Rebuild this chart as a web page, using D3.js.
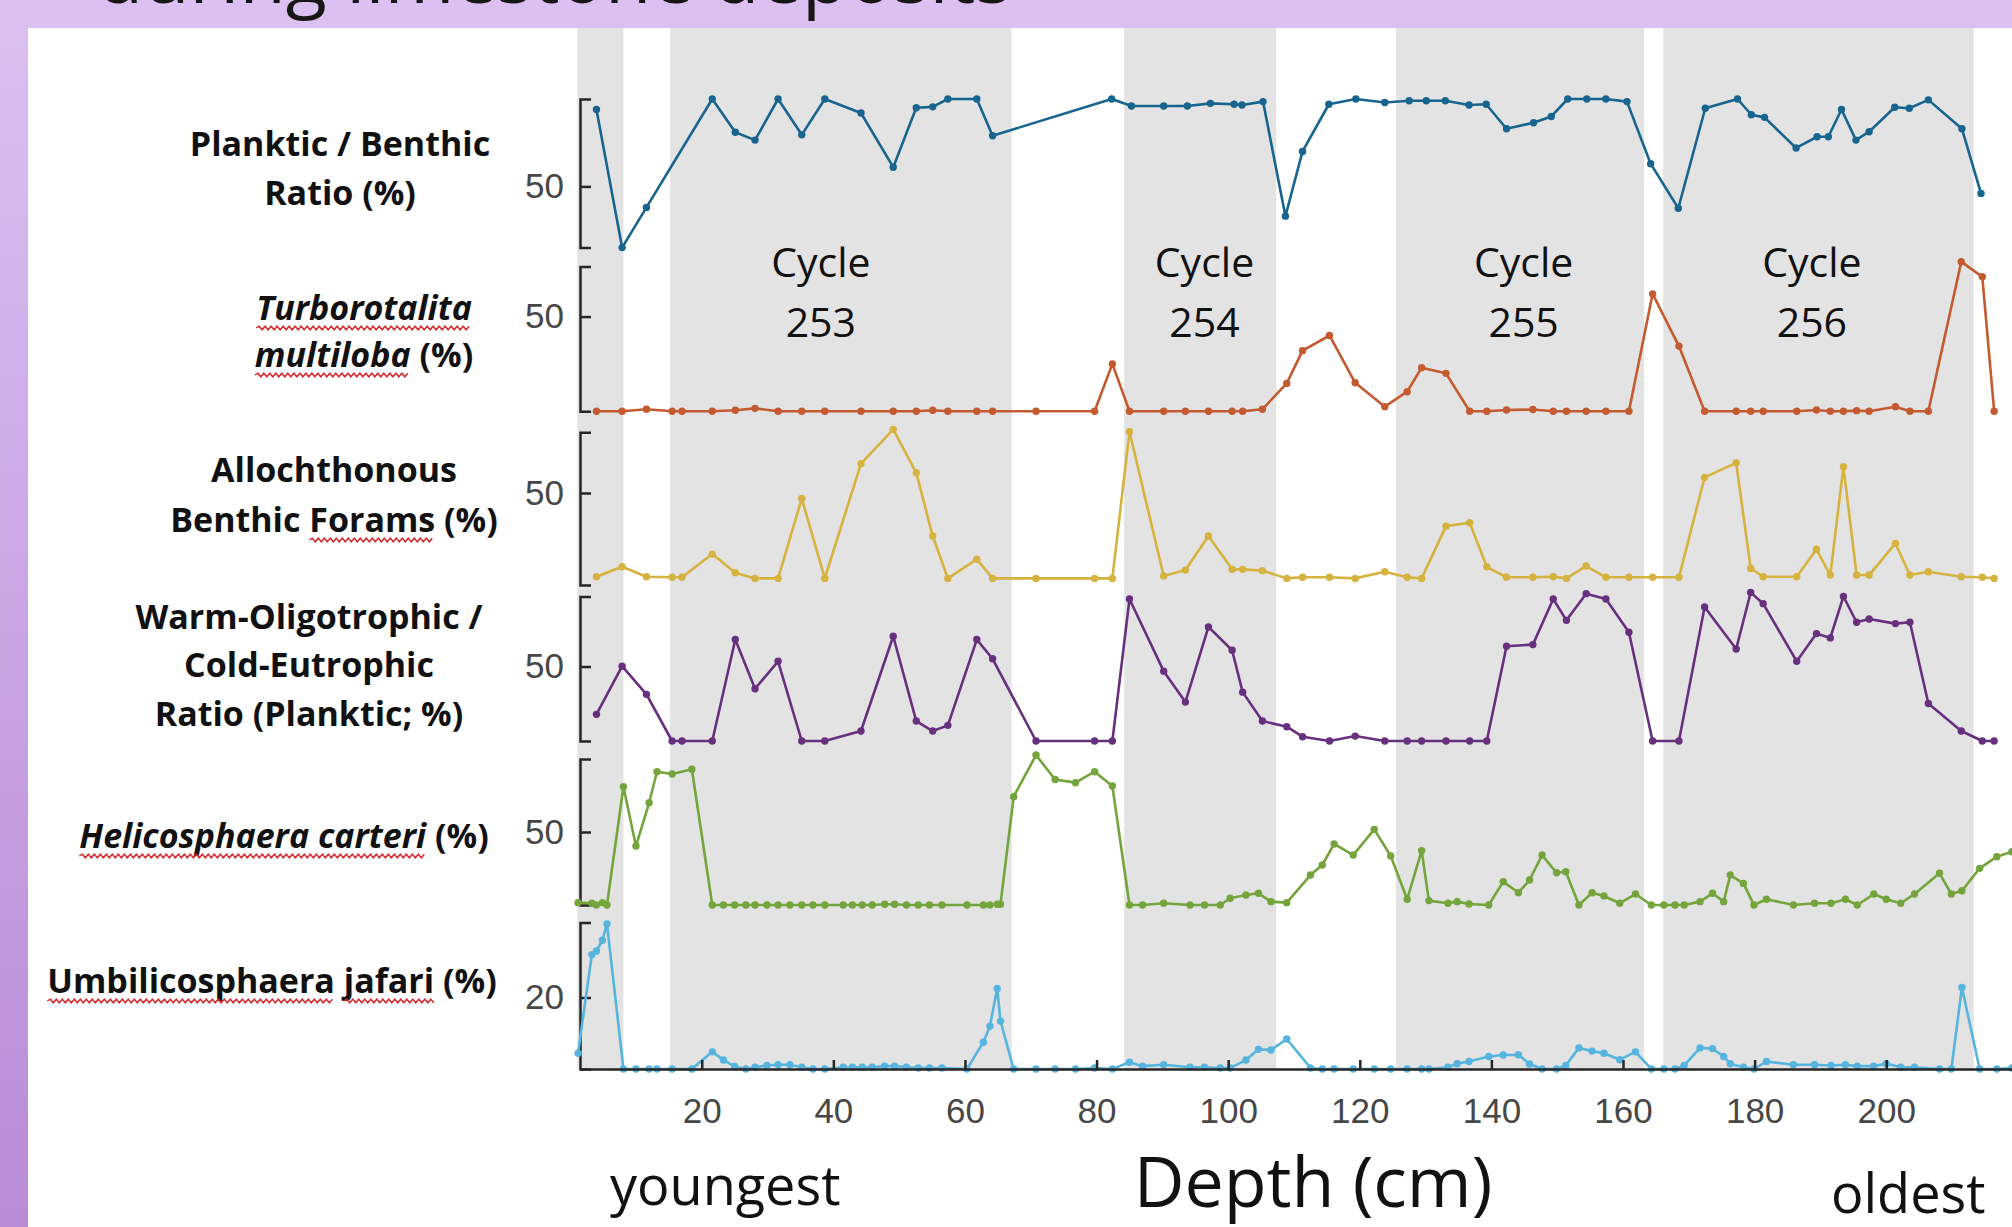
<!DOCTYPE html>
<html>
<head>
<meta charset="utf-8">
<script src="https://cdn.jsdelivr.net/npm/d3@7"></script>
<style>
  body { margin: 0; background: #fff; }
  svg { display: block; }
</style>
</head>
<body>
<svg id="chart" width="2012" height="1227"></svg>
<script>
// ---- data (depth in cm, values in %) ----
const pbDepth = [4.0, 7.9, 11.6, 21.6, 25.1, 28.1, 31.6, 35.2, 38.7, 44.2, 49.1, 52.6, 55.1, 57.4, 61.8, 64.2, 82.3, 85.3, 90.2, 93.8, 97.3, 100.9, 102.1, 105.3, 108.7, 111.3, 115.3, 119.4, 123.8, 127.5, 130.1, 133.0, 136.6, 139.2, 142.3, 146.4, 149.1, 151.6, 154.5, 157.4, 160.6, 164.2, 168.4, 172.5, 177.4, 179.5, 181.5, 186.3, 189.5, 191.2, 193.2, 195.4, 197.4, 201.3, 203.5, 206.4, 211.5, 214.4];
const pbValue = [94, 15, 38, 100, 81, 76.5, 100, 79.5, 100, 92, 61, 95, 95.5, 100, 100, 79, 100, 96, 96, 96, 97.5, 97, 96.6, 98.5, 33, 70, 97, 100, 98, 99, 99, 99, 96.6, 97, 83, 86.4, 90, 100, 100, 100, 98.5, 63, 37.5, 94.7, 100, 91, 89.5, 72, 78.4, 78.4, 94, 76.5, 81.3, 95.3, 94.7, 99.5, 83, 46];

const foramDepth = [4.0, 7.9, 11.6, 15.5, 17.0, 21.6, 25.1, 28.1, 31.6, 35.2, 38.7, 44.2, 49.1, 52.6, 55.1, 57.4, 61.8, 64.2, 70.8, 79.7, 82.4, 85.0, 90.2, 93.5, 97.0, 100.6, 102.2, 105.2, 108.9, 111.3, 115.4, 119.3, 123.8, 127.2, 129.4, 133.1, 136.7, 139.3, 142.3, 146.3, 149.4, 151.4, 154.4, 157.4, 160.9, 164.5, 168.5, 172.4, 177.2, 179.4, 181.3, 186.4, 189.4, 191.5, 193.5, 195.5, 197.4, 201.4, 203.6, 206.4, 211.4, 214.6, 216.4];
const tmValue = [0, 0, 1, 0, 0, 0, 0.5, 1.5, 0, 0, 0, 0, 0, 0, 0.5, 0, 0, 0, 0, 0, 25, 0, 0, 0, 0, 0, 0, 1, 14.7, 32, 40, 15, 2.4, 10.3, 23, 20, 0, 0, 0.6, 0.9, 0, 0, 0, 0, 0, 62, 34.4, 0, 0, 0, 0, 0, 0.6, 0, 0, 0.3, 0, 2.4, 0, 0, 79, 71, 0];
const abfValue = [4.5, 9.9, 4.5, 4.2, 4.2, 16.8, 6.7, 3.6, 3.6, 47, 3.6, 66, 84.6, 61, 26.6, 3.6, 14, 3.6, 3.6, 3.6, 3.6, 83.3, 4.9, 8.1, 26.6, 8.5, 8.5, 7.8, 3.6, 4.2, 4.2, 3.6, 7.2, 4.2, 3.6, 32, 33.8, 9.9, 4.2, 4.2, 4.5, 3.6, 10.3, 4.2, 4.2, 4.2, 4.2, 58.5, 66.4, 9, 4.5, 4.5, 19.4, 5.4, 64.3, 5.4, 5.4, 22.6, 5.4, 7.2, 4.5, 4.2, 3.6];
const wcValue = [17.9, 50.2, 31.3, 0, 0, 0, 68.1, 35.1, 53.5, 0, 0, 6.7, 70.3, 13.4, 6.7, 10.5, 68.1, 55.2, 0, 0, 0, 95.3, 46.9, 26.1, 76.6, 60.9, 32.8, 13.4, 9.6, 2.9, 0, 3.3, 0, 0, 0, 0, 0, 0, 63.6, 64.7, 95.3, 81, 98.9, 95.3, 73, 0, 0, 90, 61.8, 99.7, 92.2, 53.5, 72.1, 69.2, 97, 79.7, 81.9, 78.8, 79.7, 25.2, 6.7, 0, 0];

const nannoDepth = [1.2, 3.3, 4.0, 4.9, 5.6, 8.1, 10.0, 12.0, 13.2, 15.5,
  18.5, 21.6, 23.3, 25.0, 26.7, 28.1, 29.9, 31.6, 33.4, 35.2,
  36.9, 38.7, 41.5, 42.9, 44.4, 45.9, 47.8, 49.3, 51.1, 52.9,
  54.6, 56.5, 60.3, 62.8, 63.8, 64.9, 65.4, 67.4, 70.8, 73.7,
  76.8, 79.7, 82.4, 85.0, 87.0, 90.2, 94.2, 96.4, 98.8, 100.3,
  102.7, 104.6, 106.5, 108.9, 112.5, 114.3, 116.1, 119.0, 122.2, 124.7,
  127.2, 129.4, 130.5, 133.4, 134.8, 136.6, 139.6, 141.8, 144.1, 145.8,
  147.7, 149.9, 151.3, 153.3, 155.3, 157.1, 159.5, 161.9, 164.3, 166.2,
  167.9, 169.3, 171.7, 173.6, 175.3, 176.3, 178.3, 179.9, 181.8, 185.9,
  189.1, 191.6, 193.8, 195.6, 198.1, 200.0, 202.2, 204.3, 208.1, 209.9,
  211.5, 214.2, 216.8, 219.1];
const hcValue = [1.6, 1.2, 0, 1.6, 0, 81, 40.4, 70, 91.3, 89.7,
  93, 0, 0, 0, 0, 0, 0, 0, 0, 0,
  0, 0, 0, 0, 0, 0, 0.5, 0.5, 0, 0,
  0, 0, 0, 0, 0, 0.5, 0.5, 74.2, 102.7, 86,
  83.8, 91.3, 81.5, 0, 0, 1.2, 0, 0, 0, 4.6,
  6.8, 8, 2.3, 1.6, 20.5, 27.4, 41.8, 34.2, 51.8, 33.6,
  3.9, 37.2, 3, 1.2, 2.3, 0.7, 0, 16, 8.4, 17.1,
  34.2, 22.1, 22.8, 0, 8.4, 6.2, 1.2, 7.5, 0, 0,
  0, 0, 2.3, 8, 2.3, 20.5, 14.8, 0, 3.9, 0,
  1.2, 1.2, 3.9, 0, 7.5, 3.9, 1.2, 7.5, 21.7, 7.5,
  9.8, 25.1, 33.1, 36.5];
const ujValue = [4.4, 32, 33, 36, 40.6, 0, 0, 0, 0, 0,
  0, 4.8, 2.5, 0.7, 0, 0.5, 1, 1.2, 1.2, 0.5,
  0, 0, 0.5, 0.5, 0.5, 0.5, 0.8, 0.8, 0.5, 0.3,
  0.3, 0.3, 0, 7.5, 12, 22.5, 13.4, 0, 0, 0,
  0, 0.3, 0, 1.9, 0.8, 1.2, 0.5, 0.5, 0.3, 0.3,
  2.5, 5.5, 5.3, 8.4, 0.3, 0, 0, 0, 0, 0,
  0, 0, 0, 0.5, 1.5, 2.1, 3.5, 3.9, 4, 1.4,
  0, 0, 1, 5.9, 5, 4.4, 2.6, 4.8, 0, 0,
  0, 1, 5.9, 5.7, 3.5, 1.5, 0.5, 0, 2.1, 1.2,
  1.2, 1, 1.2, 0.8, 0.8, 1.5, 0.5, 0.5, 0, 0,
  22.8, 0, 0, 0.3];

// shaded cycle intervals (cm)
const bandStart = [1.1, 15.2, 84.2, 125.5, 166.1];
const bandEnd = [8.1, 67.1, 107.3, 163.2, 213.3];
const cycleNames = ["253", "254", "255", "256"];
const cycleDepth = [38.1, 96.4, 144.9, 188.7];
const xTicks = [20, 40, 60, 80, 100, 120, 140, 160, 180, 200];

// panel labels: [text, italic, spell-check squiggle]
const labelLines = [
  [[["Planktic / Benthic"]], [["Ratio (%)"]]],
  [[["Turborotalita", 1, 1]], [["multiloba", 1, 1], [" (%)"]]],
  [[["Allochthonous"]], [["Benthic "], ["Forams", 0, 1], [" (%)"]]],
  [[["Warm-Oligotrophic /"]], [["Cold-Eutrophic"]], [["Ratio (Planktic; %)"]]],
  [[["Helicosphaera carteri", 1, 1], [" (%)"]]],
  [[["Umbilicosphaera", 0, 1], [" "], ["jafari", 0, 1], [" (%)"]]]
];

// ---- layout ----
var W = 2012, H = 1227;
var svg = d3.select("#chart");
var axisY = 1069, plotTop = 28;

var panels = [
  { depth: pbDepth, value: pbValue, dom: [15, 100], rng: [247.6, 99], tick: 50, color: "#17658f" },
  { depth: foramDepth, value: tmValue, dom: [0, 76.4], rng: [411.2, 266.6], tick: 50, color: "#c45a30" },
  { depth: foramDepth, value: abfValue, dom: [0, 83], rng: [585, 432.3], tick: 50, color: "#d6b23f" },
  { depth: foramDepth, value: wcValue, dom: [0, 97], rng: [741, 596.5], tick: 50, color: "#67307f" },
  { depth: nannoDepth, value: hcValue, dom: [0, 100], rng: [905, 759], tick: 50, color: "#74a53c" },
  { depth: nannoDepth, value: ujValue, dom: [0, 41], rng: [1069, 922.4], tick: 20, color: "#55b5de" }
];
var labelX = [340, 364, 334, 309, 284, 272];
var labelY = [[156, 205], [320, 367], [482, 532], [629, 677, 726], [848], [993]];

// slide background
var defs = svg.append("defs");
var grad = defs.append("linearGradient").attr("id", "bg")
    .attr("x1", 0).attr("y1", 0).attr("x2", 0).attr("y2", 1);
grad.append("stop").attr("offset", "0%").attr("stop-color", "#dbc0f1");
grad.append("stop").attr("offset", "100%").attr("stop-color", "#b98bd6");
svg.append("rect").attr("width", W).attr("height", H).attr("fill", "url(#bg)");

// slide title, only its lower edge shows above the figure
svg.append("text")
    .attr("x", 97).attr("y", 3)
    .style("font-family", "'Open Sans', sans-serif")
    .style("font-size", "75.5px")
    .attr("fill", "#161616")
    .text("during limestone deposits");

svg.append("rect")
    .attr("x", 28).attr("y", plotTop)
    .attr("width", W - 28).attr("height", H - plotTop)
    .attr("fill", "#fff");

var x = d3.scaleLinear().domain([1.5, 222]).range([580, 2031]);

// grey cycle bands
svg.append("g").selectAll("rect")
    .data(bandStart)
    .enter().append("rect")
    .attr("x", d => x(d))
    .attr("width", (d, i) => x(bandEnd[i]) - x(d))
    .attr("y", plotTop)
    .attr("height", axisY - plotTop)
    .attr("fill", "#e3e3e3");

// cycle labels
var cyc = svg.append("g")
    .style("font-family", "'Open Sans', sans-serif")
    .style("font-size", "41px")
    .attr("fill", "#111")
    .attr("text-anchor", "middle");
cycleNames.forEach(function(c, i) {
  cyc.append("text").attr("x", x(cycleDepth[i])).attr("y", 277).text("Cycle");
  cyc.append("text").attr("x", x(cycleDepth[i])).attr("y", 337).text(c);
});

// stacked panels
panels.forEach(function(p) {
  var y = d3.scaleLinear().domain(p.dom).range(p.rng);
  var pts = p.depth.map((d, i) => [d, p.value[i]]);

  var yAxis = d3.axisLeft(y)
      .tickValues([p.tick])
      .tickSizeInner(-11)
      .tickSizeOuter(-11)
      .tickPadding(16);
  var ga = svg.append("g")
      .attr("transform", "translate(" + x(1.5) + ",0)")
      .call(yAxis);
  ga.select(".domain").attr("stroke", "#262626").attr("stroke-width", 2.5);
  ga.selectAll(".tick line").attr("stroke", "#262626").attr("stroke-width", 2.5);
  ga.selectAll(".tick text")
      .attr("fill", "#474747")
      .style("font-family", "'Liberation Sans', Arial, sans-serif")
      .style("font-size", "35px");

  var line = d3.line().x(d => x(d[0])).y(d => y(d[1]));
  svg.append("path")
      .datum(pts)
      .attr("d", line)
      .attr("fill", "none")
      .attr("stroke", p.color)
      .attr("stroke-width", 2.6)
      .attr("stroke-linejoin", "round");

  svg.append("g").selectAll("circle")
      .data(pts)
      .enter().append("circle")
      .attr("cx", d => x(d[0]))
      .attr("cy", d => y(d[1]))
      .attr("r", 3.7)
      .attr("fill", p.color);
});

// depth axis
var xAxis = d3.axisBottom(x)
    .tickValues(xTicks)
    .tickSizeInner(-9)
    .tickSizeOuter(0)
    .tickPadding(29);
var gx = svg.append("g")
    .attr("transform", "translate(0," + axisY + ")")
    .call(xAxis);
gx.select(".domain").attr("stroke", "#262626").attr("stroke-width", 2.5);
gx.selectAll(".tick line").attr("stroke", "#262626").attr("stroke-width", 2.5);
gx.selectAll(".tick text")
    .attr("fill", "#474747")
    .style("font-family", "'Liberation Sans', Arial, sans-serif")
    .style("font-size", "35px");

var foot = svg.append("g")
    .style("font-family", "'Open Sans', sans-serif")
    .attr("fill", "#111");
foot.append("text").attr("x", 610).attr("y", 1205).style("font-size", "54px").text("youngest");
foot.append("text").attr("x", 1313).attr("y", 1207).attr("text-anchor", "middle").style("font-size", "70px").text("Depth (cm)");
foot.append("text").attr("x", 1831).attr("y", 1213).style("font-size", "54px").text("oldest");

// panel names, with the red spell-check squiggles of the slide
function wavy(x0, x1, yy) {
  var p = "M" + x0 + "," + yy, up = true;
  for (var xx = x0 + 3; xx <= x1; xx += 3) {
    p += "L" + xx + "," + (yy + (up ? -1.8 : 1.8));
    up = !up;
  }
  return p;
}

labelLines.forEach(function(lines, i) {
  lines.forEach(function(segs, j) {
    var t = svg.append("text")
        .attr("x", labelX[i]).attr("y", labelY[i][j])
        .attr("text-anchor", "middle")
        .style("font-family", "'Open Sans', sans-serif")
        .style("font-weight", 700)
        .style("font-size", "34px")
        .attr("fill", "#111");
    segs.forEach(function(s) {
      t.append("tspan").style("font-style", s[1] ? "italic" : "normal").text(s[0]);
    });
    var node = t.node(), idx = 0;
    segs.forEach(function(s) {
      if (s[2]) {
        var a = node.getStartPositionOfChar(idx).x;
        var b = node.getEndPositionOfChar(idx + s[0].length - 1).x;
        svg.append("path")
            .attr("d", wavy(a, b, labelY[i][j] + 8))
            .attr("fill", "none")
            .attr("stroke", "#d8262a")
            .attr("stroke-width", 1.4);
      }
      idx += s[0].length;
    });
  });
});
</script>
</body>
</html>
